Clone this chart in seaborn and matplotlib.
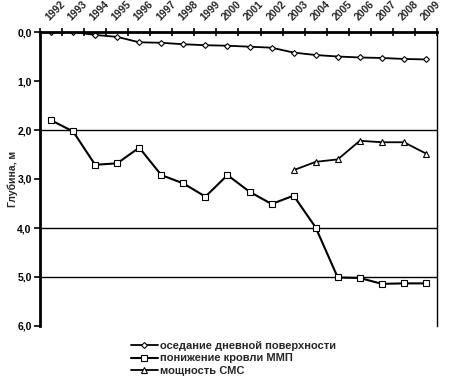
import numpy as np
import pandas as pd
import matplotlib
matplotlib.use("Agg")
import matplotlib.pyplot as plt
import seaborn as sns

# years on the category axis
years = [str(y) for y in range(1992, 2010)]

# depth values, m
subsidence = [0.00, 0.00, 0.06, 0.10, 0.21, 0.22, 0.25, 0.27, 0.28,
              0.30, 0.32, 0.42, 0.47, 0.50, 0.52, 0.53, 0.55, 0.56]
mmp_roof = [1.80, 2.03, 2.71, 2.68, 2.36, 2.92, 3.09, 3.36, 2.92,
            3.26, 3.51, 3.34, 3.99, 5.01, 5.02, 5.14, 5.13, 5.13]
sms_thick = [np.nan] * 11 + [2.82, 2.65, 2.60, 2.22, 2.25, 2.25, 2.48]

labels = ["оседание дневной поверхности",
          "понижение кровли ММП",
          "мощность СМС"]
grid_levels = [2, 4, 5]

sns.set_theme(style="white")
plt.rcParams['font.family'] = ['Liberation Sans', 'DejaVu Sans']
plt.rcParams['font.weight'] = 'bold'

df = pd.DataFrame({"x": np.arange(len(years)),
                   "sub": subsidence, "mmp": mmp_roof, "sms": sms_thick})

fig = plt.figure(figsize=(4.53, 3.79), dpi=100)
ax = fig.add_axes([40 / 453, 1 - 326 / 379, 397 / 453, 294 / 379])

for y in grid_levels:
    ax.axhline(y, color='black', lw=1.0, zorder=0)

style = dict(color='black', markerfacecolor='white', markeredgecolor='black',
             markeredgewidth=0.8)
sns.lineplot(data=df, x="x", y="sub", ax=ax, lw=1.3, marker='D',
             markersize=3.0, label=labels[0], **style)
sns.lineplot(data=df, x="x", y="mmp", ax=ax, lw=1.5, marker='s',
             markersize=3.8, label=labels[1], **style)
sns.lineplot(data=df.dropna(), x="x", y="sms", ax=ax, lw=1.3, marker='^',
             markersize=3.8, label=labels[2], **style)

ax.set_xlim(-0.5, len(years) - 0.5)
ax.set_ylim(6, 0)
ax.set_yticks(range(0, 7))
ax.set_yticklabels([f"{v},0" for v in range(0, 7)], fontsize=7.5, fontweight='bold')
ax.set_ylabel("Глубина, м", fontsize=7.5, fontweight='bold', va='center')
ax.yaxis.set_label_coords(-0.068, 0.5)
ax.set_xlabel("")

ax.xaxis.tick_top()
ax.set_xticks(np.arange(len(years)))
ax.set_xticklabels(years, rotation=45, ha='left', va='bottom',
                   rotation_mode='anchor', fontsize=7.5, fontweight='bold')
ax.set_xticks(np.arange(-0.5, len(years)), minor=True)
ax.tick_params(axis='x', which='major', length=0, pad=7)
ax.tick_params(axis='x', which='minor', top=True, bottom=False,
               direction='inout', length=6, width=1.2, color='black')
ax.tick_params(axis='y', left=True, direction='out', length=4, width=1.2,
               color='black', pad=2, labelcolor='black')

ax.spines['bottom'].set_visible(False)
ax.spines['left'].set_linewidth(2)
ax.spines['top'].set_linewidth(2)
ax.spines['right'].set_linewidth(1)
for s in ax.spines.values():
    s.set_color('black')

leg = ax.legend(loc='upper left', bbox_to_anchor=(91 / 397, -0.05),
                frameon=False, fontsize=8, handlelength=2.4,
                handletextpad=0.2, labelspacing=0.25, borderaxespad=0,
                borderpad=0)
for t in leg.get_texts():
    t.set_fontweight('bold')

fig.savefig("out.png", dpi=100)
